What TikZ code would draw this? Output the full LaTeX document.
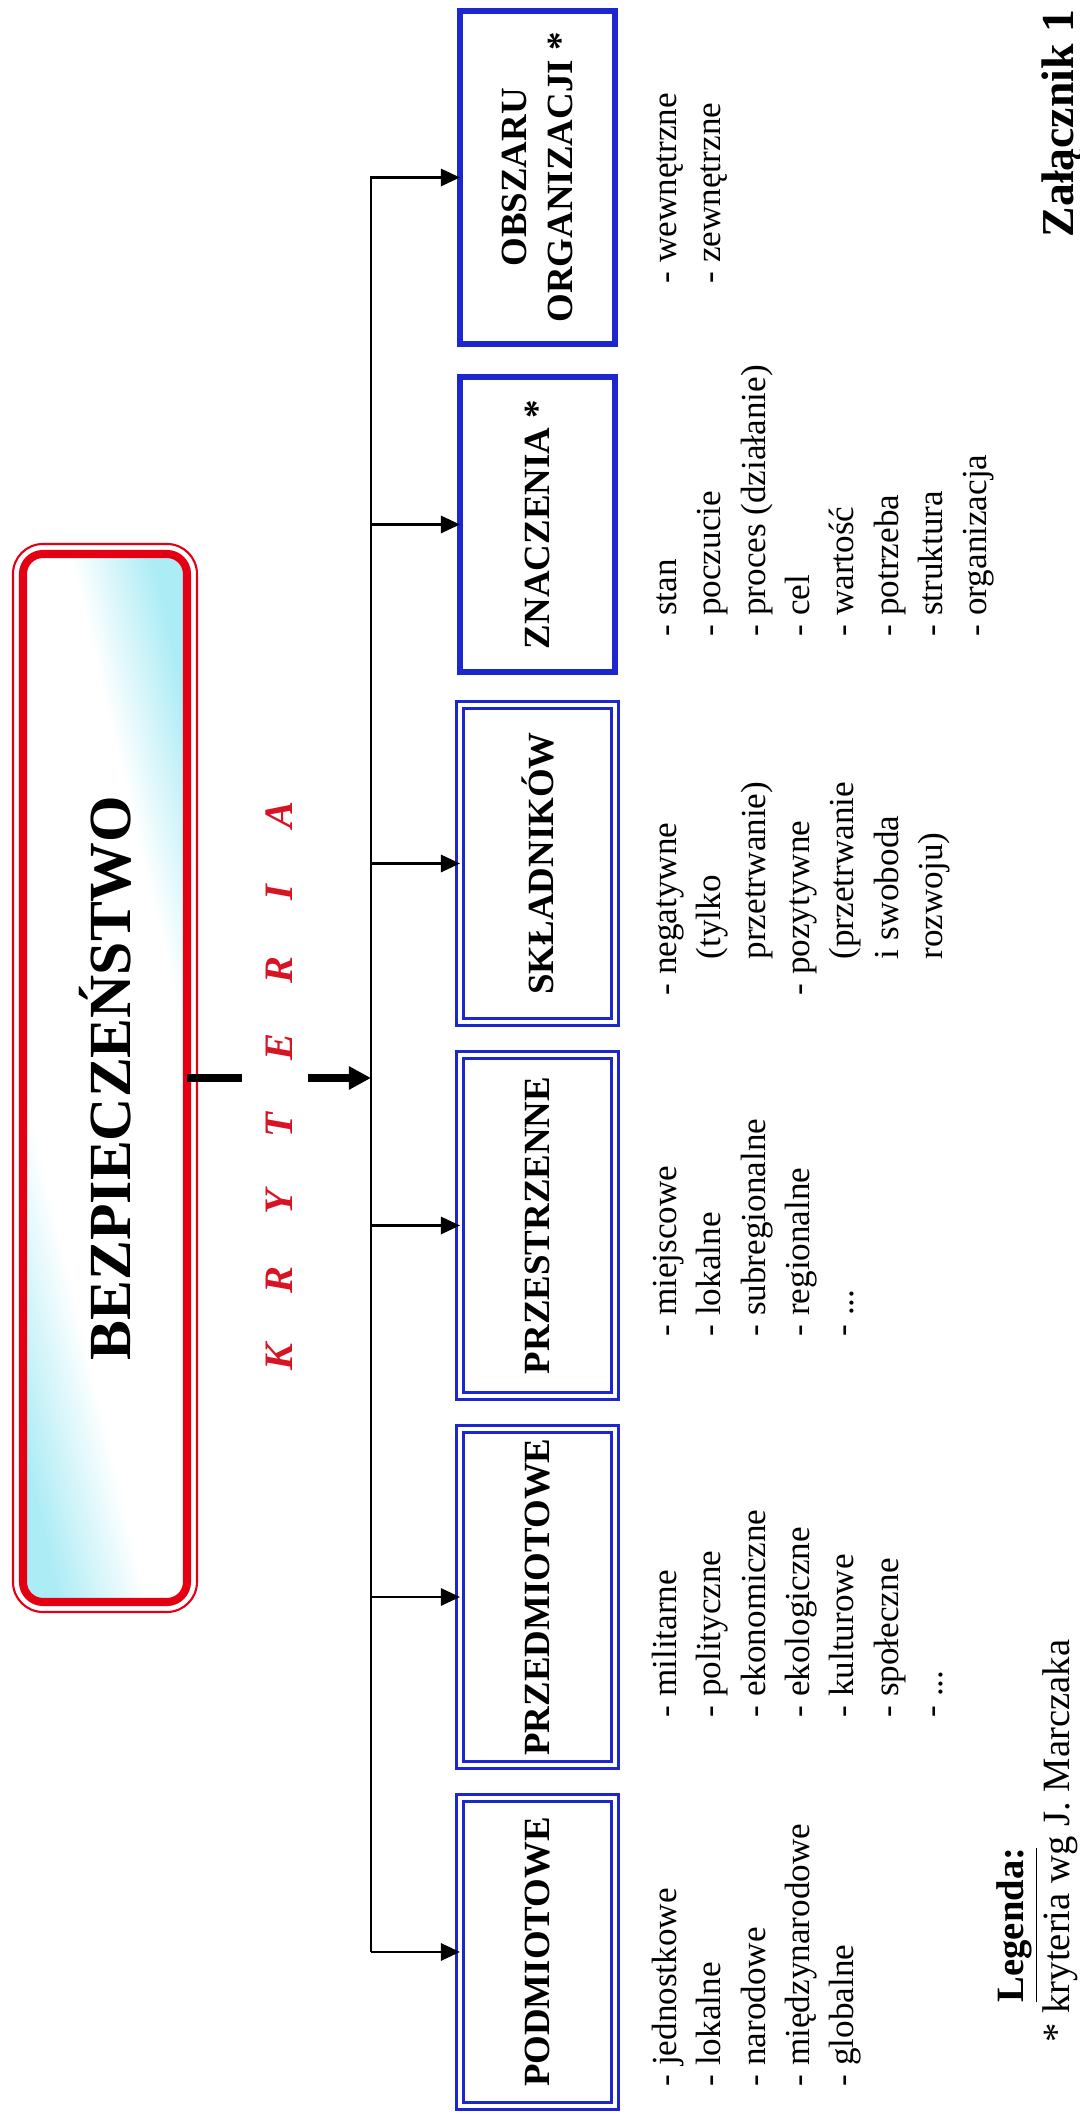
\documentclass[tikz,border=0pt]{standalone}
\usepackage{fontspec}
\setmainfont{Liberation Serif}
\usetikzlibrary{arrows.meta, positioning, calc}
\definecolor{critblue}{RGB}{28,40,205}
\definecolor{titlered}{RGB}{228,0,18}
\definecolor{kryred}{RGB}{215,20,35}
\definecolor{titlecyan}{RGB}{172,236,245}
\pgfdeclarehorizontalshading{titleshade}{100bp}{color(0bp)=(titlecyan); color(25bp)=(titlecyan); color(38bp)=(white); color(63bp)=(white); color(75bp)=(titlecyan); color(100bp)=(titlecyan)}
\newcommand{\kl}[1]{\makebox[7.75mm]{#1}}
\tikzset{%
  titlebox/.style={draw=titlered, line width=2.3pt, rounded corners=2mm, shade, shading=titleshade,
    shading angle=13.4, minimum width=10.48cm, minimum height=1.64cm, inner sep=0pt, outer sep=0pt,
    font=\fontsize{17}{20}\selectfont\bfseries},
  titleframe/.style={draw=titlered, line width=0.6pt, rounded corners=3mm},
  crit/.style={draw=critblue, line width=1.8pt, minimum height=1.55cm, inner sep=0pt, outer sep=0pt,
    align=center, font=\fontsize{10.5}{13}\selectfont\bfseries},
  critdbl/.style={crit, line width=0.75pt, double=white, double distance=1.1pt},
  items/.style={inner sep=0pt, align=left, font=\fontsize{10}{12.6}\selectfont},
  bus/.style={line width=0.8pt},
  branch/.style={-{Triangle[length=1.9mm, width=1.7mm]}, line width=0.8pt},
  stem/.style={line width=2.2pt},
  mainmove/.style={-{Triangle[length=2.2mm, width=2.2mm]}, line width=2.2pt},
  kryteria/.style={text=kryred, inner sep=0pt, font=\fontsize{11.5}{14}\selectfont\bfseries\itshape}
}
\begin{document}
\begin{tikzpicture}
\begin{scope}[rotate=90, transform shape]
  \useasboundingbox (0,0) rectangle (21.18,10.8);

  % title
  \node[titlebox] (tytul) at (10.40,9.75) {BEZPIECZEŃSTWO};
  \draw[titleframe] ($(tytul.south west)+(-0.1,-0.1)$) rectangle ($(tytul.north east)+(0.1,0.1)$);

  % criteria boxes
  \node[critdbl, minimum width=3.08cm] (podm) at (1.66,5.425) {PODMIOTOWE};
  \node[critdbl, minimum width=3.36cm, right=3.3mm of podm] (przedm) {PRZEDMIOTOWE};
  \node[critdbl, minimum width=3.41cm, right=3.3mm of przedm] (przestrz) {PRZESTRZENNE};
  \node[critdbl, minimum width=3.17cm, right=3.3mm of przestrz] (sklad) {SKŁADNIKÓW};
  \node[crit, minimum width=2.95cm, right=3.3mm of sklad] (znacz) {ZNACZENIA *};
  \node[crit, minimum width=3.33cm, right=3.3mm of znacz] (obszar) {OBSZARU\\ORGANIZACJI *};

  % stem and bus
  \coordinate (szyna) at (0,7.09);
  \coordinate (stemtop) at ($(tytul.south)+(0,-0.55)$);
  \coordinate (stembot) at ($(tytul.south)+(0,-1.21)$);
  \node[kryteria] (kryt) at ($(tytul.south)+(-0.08,-0.92)$)
    {\kl{K}\kl{R}\kl{Y}\kl{T}\kl{E}\kl{R}\kl{I}\kl{A}};
  \draw[stem] (tytul.south) -- (stemtop);
  \draw[mainmove] (stembot) -- (stembot |- szyna);

  \draw[branch] (szyna -| podm.north) -- (szyna -| obszar.north) -- (obszar.north);
  \draw[branch] (szyna -| podm.north) -- (podm.north);
  \draw[branch] (szyna -| przedm.north) -- (przedm.north);
  \draw[branch] (szyna -| przestrz.north) -- (przestrz.north);
  \draw[branch] (szyna -| sklad.north) -- (sklad.north);
  \draw[branch] (szyna -| znacz.north) -- (znacz.north);

  % lists
  \node[items, below right=3mm and 1.9mm of podm.south west] (l-podm)
    {\strut- jednostkowe\\- lokalne\\- narodowe\\- międzynarodowe\\- globalne};
  \node[items, below right=3mm and 4.7mm of przedm.south west] (l-przedm)
    {\strut- militarne\\- polityczne\\- ekonomiczne\\- ekologiczne\\- kulturowe\\- społeczne\\- ...};
  \node[items, below right=3mm and 5.9mm of przestrz.south west] (l-przestrz)
    {\strut- miejscowe\\- lokalne\\- subregionalne\\- regionalne\\- ...};
  \node[items, below right=3mm and 2.6mm of sklad.south west] (l-sklad)
    {\strut- negatywne\\\hspace*{3.6mm}(tylko\\\hspace*{3.6mm}przetrwanie)\\- pozytywne\\
     \hspace*{3.6mm}(przetrwanie\\\hspace*{3.6mm}i swoboda\\\hspace*{3.6mm}rozwoju)};
  \node[items, below right=3mm and 3.5mm of znacz.south west] (l-znacz)
    {\strut- stan\\- poczucie\\- proces (działanie)\\- cel\\- wartość\\- potrzeba\\- struktura\\- organizacja};
  \node[items, below right=3mm and 6mm of obszar.south west] (l-obszar)
    {\strut- wewnętrzne\\- zewnętrzne};

  % legend
  \node[items, anchor=north west, font=\fontsize{11}{11.6}\selectfont] (legenda) at (0.75,0.86)
    {\strut\hspace*{4mm}\underline{\textbf{Legenda:}}\\* kryteria wg J. Marczaka};
  \node[anchor=base west, inner sep=0pt, font=\fontsize{13}{15}\selectfont\bfseries] (zal) at (18.8,0.06)
    {Załącznik 1};
\end{scope}
\end{tikzpicture}
\end{document}
